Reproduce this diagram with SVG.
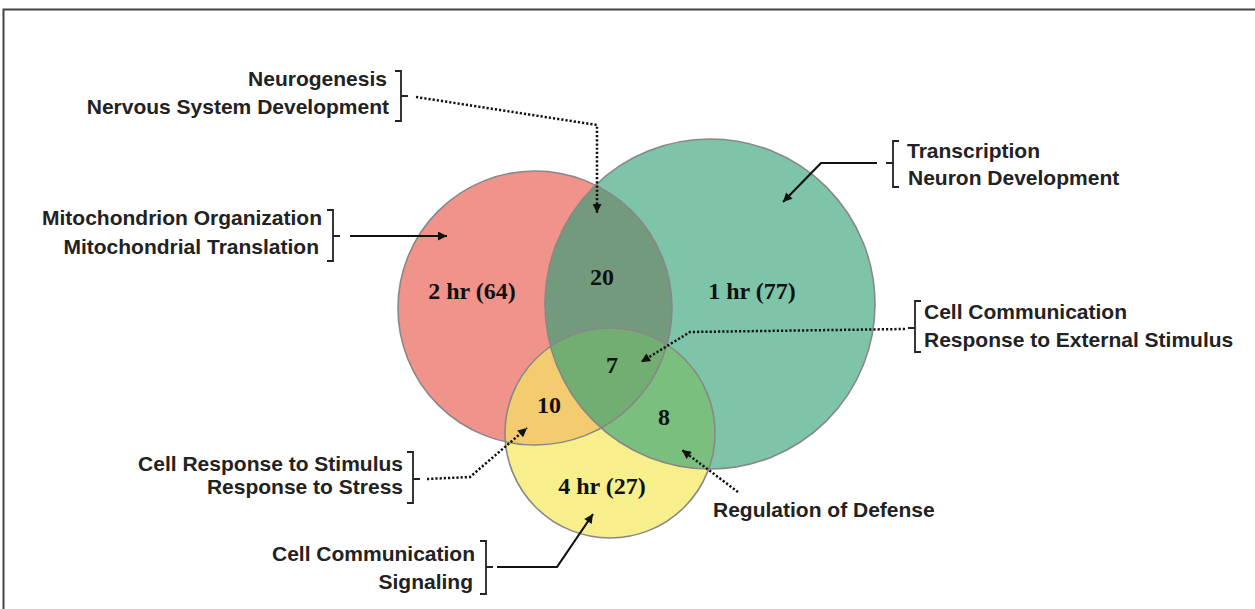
<svg xmlns="http://www.w3.org/2000/svg" width="1255" height="609" viewBox="0 0 1255 609">
<style>
.lbl{font-family:"Liberation Sans",Arial,sans-serif;font-size:21px;font-weight:bold;fill:#222}
.num{font-family:"Liberation Serif","Times New Roman",serif;font-size:24px;font-weight:bold;fill:#111;text-anchor:middle}
.br{fill:none;stroke:#222;stroke-width:1.8}
.solid{fill:none;stroke:#111;stroke-width:2.2}
.dot{fill:none;stroke:#111;stroke-width:2.5;stroke-dasharray:2.2 2}
.edge{fill:none;stroke:#888;stroke-width:1.6}
</style>
<defs>
<clipPath id="cR"><circle cx="535" cy="308" r="137"/></clipPath>
<clipPath id="cG"><circle cx="710" cy="304" r="165"/></clipPath>
<marker id="ah" viewBox="0 0 10 10" refX="10" refY="5" markerWidth="10" markerHeight="9" markerUnits="userSpaceOnUse" orient="auto">
<path d="M0,0 L10,5 L0,10 z" fill="#111"/>
</marker>
</defs>
<rect x="3.5" y="9.5" width="1260" height="620" fill="none" stroke="#444" stroke-width="2"/>
<g id="venn">
<circle cx="535" cy="308" r="137" fill="#F0938A"/>
<circle cx="710" cy="304" r="165" fill="#7EC4A8"/>
<circle cx="610" cy="433" r="105" fill="#F6EF8C"/>
<circle cx="710" cy="304" r="165" fill="#739A7C" clip-path="url(#cR)"/>
<circle cx="610" cy="433" r="105" fill="#F2CC6E" clip-path="url(#cR)"/>
<circle cx="610" cy="433" r="105" fill="#7BBF7E" clip-path="url(#cG)"/>
<g clip-path="url(#cG)"><circle cx="610" cy="433" r="105" fill="#72AE72" clip-path="url(#cR)"/></g>
<circle class="edge" cx="535" cy="308" r="137"/>
<circle class="edge" cx="710" cy="304" r="165"/>
<circle class="edge" cx="610" cy="433" r="105" stroke="#666"/>
</g>
<g id="counts">
<text class="num" x="472" y="299">2 hr (64)</text>
<text class="num" x="602" y="285">20</text>
<text class="num" x="752" y="299">1 hr (77)</text>
<text class="num" x="612" y="373">7</text>
<text class="num" x="549" y="413">10</text>
<text class="num" x="664" y="425">8</text>
<text class="num" x="602" y="494">4 hr (27)</text>
</g>
<g id="connectors">
<path class="dot" d="M416,97 L597,125 L597,213" marker-end="url(#ah)"/>
<path class="solid" d="M350,236 L447,236" marker-end="url(#ah)"/>
<path class="solid" d="M877,163 L821,163 L783,202" marker-end="url(#ah)"/>
<path class="dot" d="M905,329 L690,332 L641,362" marker-end="url(#ah)"/>
<path class="dot" d="M427,479 L470,477 L527,428" marker-end="url(#ah)"/>
<path class="dot" d="M738,492 L682,450" marker-end="url(#ah)"/>
<path class="solid" d="M497,567 L557,567 L593,514" marker-end="url(#ah)"/>
</g>
<g id="label-neuro">
<text class="lbl" x="387" y="86" text-anchor="end">Neurogenesis</text>
<text class="lbl" x="389" y="114" text-anchor="end">Nervous System Development</text>
<path class="br" d="M395,71 L401,71 L401,121 L395,121 M401,96 L408,96"/>
</g>
<g id="label-mito">
<text class="lbl" x="322" y="225" text-anchor="end">Mitochondrion Organization</text>
<text class="lbl" x="319" y="254" text-anchor="end">Mitochondrial Translation</text>
<path class="br" d="M327,210 L333,210 L333,261 L327,261 M333,236 L340,236"/>
</g>
<g id="label-transcription">
<text class="lbl" x="907" y="158">Transcription</text>
<text class="lbl" x="908" y="185">Neuron Development</text>
<path class="br" d="M899,141 L893,141 L893,187 L899,187 M893,163 L886,163"/>
</g>
<g id="label-cellcomm-ext">
<text class="lbl" x="924" y="319">Cell Communication</text>
<text class="lbl" x="924" y="347">Response to External Stimulus</text>
<path class="br" d="M921,301 L915,301 L915,352 L921,352 M915,328 L908,328"/>
</g>
<g id="label-response">
<text class="lbl" x="403" y="471" text-anchor="end">Cell Response to Stimulus</text>
<text class="lbl" x="403" y="494" text-anchor="end">Response to Stress</text>
<path class="br" d="M407,452 L413,452 L413,503 L407,503 M413,479 L420,479"/>
</g>
<g id="label-defense">
<text class="lbl" x="713" y="517">Regulation of Defense</text>
</g>
<g id="label-signaling">
<text class="lbl" x="475" y="561" text-anchor="end">Cell Communication</text>
<text class="lbl" x="473" y="589" text-anchor="end">Signaling</text>
<path class="br" d="M480,541 L486,541 L486,594 L480,594 M486,567 L493,567"/>
</g>
</svg>
